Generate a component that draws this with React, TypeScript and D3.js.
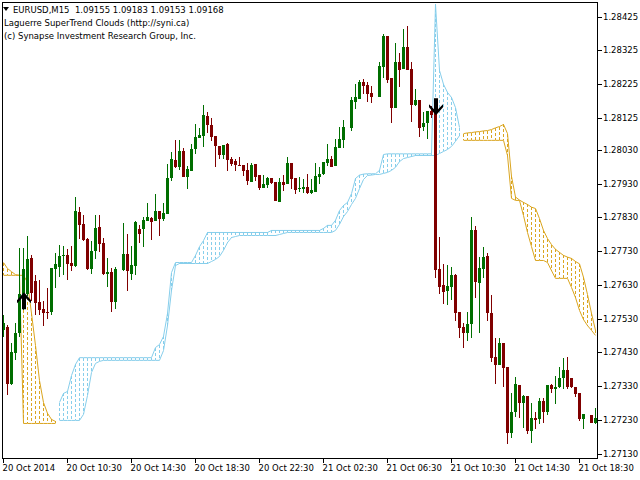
import React from "react";
import * as d3 from "d3";

// ---- data (EURUSD M15) ----
const open = [1.27495,1.27506,1.27337,1.27429,1.27486,1.27560,1.27604,1.27708,1.27640,1.27578,
1.27557,1.27549,1.27548,1.27678,1.27684,1.27715,1.27717,1.27696,1.27687,1.27847,
1.27809,1.27767,1.27678,1.27729,1.27800,1.27755,1.27663,1.27669,1.27578,null,
1.27675,1.27720,1.27663,1.27687,1.27794,1.27794,1.27818,1.27829,1.27818,1.27850,
1.27826,1.27841,1.27945,1.28001,1.27978,1.28025,1.27948,1.27966,1.28031,1.28066,
1.28072,1.28129,1.28102,1.28072,1.28040,1.28016,1.28046,1.28004,1.27998,1.27986,
1.27986,1.27969,1.27936,1.27989,1.27954,1.27918,1.27927,1.27945,1.27936,1.27874,
1.27936,1.27930,1.27992,1.27945,1.27915,1.27915,1.27921,1.27903,1.27906,1.27948,
1.27957,1.27992,1.28004,1.27981,1.28034,1.28058,null,1.28096,1.28173,1.28182,
1.28232,1.28221,1.28197,null,1.28185,1.28274,1.28366,1.28244,1.28155,1.28289,
1.28268,1.28336,1.28268,1.28164,1.28179,1.28099,1.28108,1.28146,1.28161,1.27678,
1.27628,1.27613,1.27622,1.27658,1.27548,1.27506,1.27486,1.27515,1.27791,1.27634,
1.27678,1.27714,1.27545,1.27417,1.27391,1.27456,1.27385,1.27192,1.27252,1.27334,
1.27281,1.27299,1.27198,1.27234,1.27231,1.27287,1.27252,1.27332,1.27320,1.27326,
1.27355,1.27376,1.27355,1.27326,1.27308,1.27231,null,1.27243,1.27219];

const high = [1.27539,1.27512,1.27456,1.27518,1.27738,1.27740,1.27776,1.27717,1.27658,1.27643,
1.27583,1.27619,1.27681,1.27723,1.27749,1.27746,1.27735,1.27746,1.27889,1.27859,
1.27838,1.27770,1.27761,1.27838,1.27838,1.27770,1.27708,1.27681,1.27684,null,
1.27812,1.27779,1.27746,1.27818,1.27806,1.27832,1.27871,1.27832,1.27898,1.27850,
1.27871,1.27989,1.28022,1.28058,1.28058,1.28034,1.27983,1.28046,1.28105,1.28096,
1.28164,1.28141,1.28123,1.28072,1.28040,1.28043,1.28049,1.28010,1.28004,1.28010,
1.27986,1.27992,1.27992,1.27989,1.27954,1.27954,1.27948,1.27945,1.27936,1.27945,
1.27954,1.28010,1.27992,1.27945,1.27948,1.27942,1.27957,1.27942,1.27992,1.27978,
1.27995,1.28046,1.28013,1.28061,1.28099,1.28117,null,1.28185,1.28224,1.28238,
1.28241,1.28232,1.28218,null,1.28289,1.28372,1.28366,1.28244,1.28345,1.28318,
1.28389,1.28398,1.28289,1.28209,1.28179,1.28141,1.28146,1.28161,1.28182,1.27773,
1.27693,1.27690,1.27684,1.27663,1.27548,1.27518,1.27548,1.27832,1.27803,1.27711,
1.27743,1.27723,1.27601,1.27471,1.27471,1.27456,1.27385,1.27308,1.27358,1.27334,
1.27302,1.27299,1.27281,1.27252,1.27293,1.27293,1.27332,1.27337,1.27361,1.27385,
1.27414,1.27417,1.27355,1.27326,1.27308,1.27246,null,1.27243,1.27266];

const low = [1.27474,1.27302,1.27334,1.27406,1.27474,1.27554,1.27598,1.27583,1.27539,1.27539,
1.27509,1.27530,1.27539,1.27619,1.27652,1.27658,1.27643,1.27672,1.27684,1.27767,
1.27761,1.27675,1.27663,1.27705,1.27726,1.27660,1.27622,1.27548,1.27557,null,
1.27672,1.27613,1.27643,1.27658,1.27755,1.27743,1.27818,1.27764,1.27818,1.27776,
1.27818,1.27841,1.27939,1.27975,1.27969,1.27948,1.27915,1.27966,1.28019,1.28066,
1.28037,1.28081,1.28055,1.27978,1.28004,1.28004,1.27966,1.27983,1.27966,1.27983,
1.27951,1.27927,1.27936,1.27939,1.27912,1.27918,1.27918,1.27930,1.27877,1.27874,
1.27909,1.27930,1.27915,1.27900,1.27906,1.27903,1.27898,1.27900,1.27906,1.27930,
1.27954,1.27981,1.27978,1.27981,1.28034,1.28034,null,1.28087,1.28152,1.28182,
1.28194,1.28173,1.28170,null,1.28185,1.28244,1.28229,1.28108,1.28155,1.28215,
1.28268,1.28265,1.28111,1.28161,1.28069,1.28087,1.28061,1.28123,1.27649,1.27604,
1.27572,1.27569,1.27586,1.27524,1.27471,1.27444,1.27462,1.27471,1.27592,1.27486,
1.27649,1.27524,1.27400,1.27337,1.27391,1.27326,1.27157,1.27177,1.27237,1.27234,
1.27207,1.27189,1.27160,1.27204,1.27216,1.27219,1.27243,1.27308,1.27278,1.27323,
1.27320,1.27320,1.27323,1.27296,1.27225,1.27204,null,1.27219,1.27216];

const close = [1.27518,1.27337,1.27432,1.27486,1.27604,1.27678,1.27705,1.27607,1.27575,1.27554,
1.27545,1.27546,1.27681,1.27693,1.27714,1.27717,1.27693,1.27687,1.27850,1.27806,
1.27764,1.27678,1.27729,1.27797,1.27752,1.27663,1.27669,1.27578,1.27678,null,
1.27720,1.27672,1.27690,1.27815,1.27779,1.27821,1.27832,1.27815,1.27850,1.27826,
1.27844,1.27945,1.28004,1.27978,1.28025,1.27948,1.27972,1.28031,1.28069,1.28075,
1.28132,1.28102,1.28069,1.28040,1.28016,1.28043,1.28001,1.27989,1.27986,1.27985,
1.27966,1.27939,1.27986,1.27948,1.27918,1.27930,1.27945,1.27933,1.27877,1.27936,
1.27927,1.27992,1.27942,1.27912,1.27918,1.27921,1.27903,1.27912,1.27951,1.27957,
1.27995,1.28004,1.27978,1.28037,1.28061,1.28099,null,1.28179,1.28185,1.28232,
1.28218,1.28194,1.28185,null,1.28277,1.28366,1.28238,1.28155,1.28289,1.28265,
1.28336,1.28265,1.28164,1.28179,1.28096,1.28108,1.28146,1.28132,1.27675,1.27622,
1.27610,1.27625,1.27658,1.27545,1.27503,1.27486,1.27515,1.27791,1.27637,1.27681,
1.27711,1.27545,1.27414,1.27391,1.27456,1.27382,1.27192,1.27252,1.27337,1.27281,
1.27299,1.27198,1.27234,1.27228,1.27287,1.27252,1.27332,1.27320,1.27326,1.27355,
1.27376,1.27326,1.27326,1.27305,1.27231,1.27246,null,1.27219,1.27234];

// Laguerre SuperTrend cloud: two lines per bar
const cloudFast = [1.27696,1.27678,1.27669,1.27660,1.27658,1.27658,1.27637,1.27545,1.27450,1.27346,
1.27281,1.27249,1.27231,1.27225,1.27281,1.27308,1.27314,1.27361,1.27394,1.27414,
1.27414,1.27414,1.27414,1.27414,1.27414,1.27414,1.27414,1.27414,1.27414,1.27414,
1.27414,1.27414,1.27414,1.27414,1.27414,1.27414,1.27414,1.27414,1.27444,1.27453,
1.27477,1.27545,1.27666,1.27696,1.27696,1.27696,1.27696,1.27696,1.27717,1.27743,
1.27761,1.27785,1.27785,1.27785,1.27785,1.27785,1.27785,1.27785,1.27785,1.27785,
1.27785,1.27785,1.27785,1.27785,1.27785,1.27785,1.27785,1.27791,1.27791,1.27791,
1.27791,1.27791,1.27791,1.27791,1.27791,1.27791,1.27791,1.27791,1.27791,1.27791,
1.27797,1.27806,1.27806,1.27821,1.27850,1.27865,1.27874,1.27900,1.27945,1.27955,
1.27958,1.27959,1.27959,1.27959,1.27969,1.28016,1.28018,1.28018,1.28018,1.28018,
1.28018,1.28018,1.28018,1.28018,1.28018,1.28018,1.28018,1.28018,1.28461,1.28265,
1.28224,1.28200,1.28185,1.28155,1.28096,1.28078,1.28080,1.28081,1.28083,1.28084,
1.28086,1.28087,1.28090,1.28095,1.28099,1.28105,1.28078,1.27951,1.27890,1.27881,
1.27874,1.27868,1.27860,1.27856,1.27826,1.27791,1.27767,1.27749,1.27735,1.27726,
1.27717,1.27712,1.27708,1.27699,1.27692,1.27652,1.27601,1.27545,1.27495];

const cloudSlow = [1.27658,1.27658,1.27658,1.27658,1.27658,1.27219,1.27219,1.27219,1.27219,1.27219,
1.27219,1.27219,1.27219,1.27219,1.27228,1.27228,1.27228,1.27228,1.27228,1.27228,
1.27246,1.27302,1.27370,1.27397,1.27403,1.27406,1.27406,1.27406,1.27406,1.27406,
1.27406,1.27406,1.27406,1.27406,1.27406,1.27406,1.27406,1.27406,1.27406,1.27406,
1.27435,1.27509,1.27613,1.27687,1.27693,1.27693,1.27693,1.27693,1.27693,1.27693,
1.27693,1.27693,1.27699,1.27705,1.27714,1.27732,1.27755,1.27770,1.27773,1.27776,
1.27776,1.27776,1.27776,1.27776,1.27776,1.27776,1.27776,1.27776,1.27776,1.27779,
1.27782,1.27785,1.27785,1.27785,1.27785,1.27785,1.27785,1.27785,1.27785,1.27785,
1.27785,1.27785,1.27785,1.27791,1.27809,1.27832,1.27847,1.27868,1.27886,1.27915,
1.27942,1.27954,1.27955,1.27957,1.27957,1.27960,1.27963,1.27969,1.27978,1.27995,
1.28004,1.28007,1.28010,1.28013,1.28013,1.28013,1.28013,1.28013,1.28013,1.28019,
1.28025,1.28031,1.28040,1.28055,1.28072,1.28058,1.28058,1.28058,1.28058,1.28058,
1.28058,1.28058,1.28058,1.28058,1.28058,1.28058,1.28013,1.27886,1.27880,1.27880,
1.27835,1.27785,1.27743,1.27702,1.27702,1.27702,1.27696,1.27672,1.27649,1.27649,
1.27649,1.27649,1.27622,1.27592,1.27554,1.27527,1.27509,1.27495,1.27480];

// trend segments of the cloud (first bar, last bar, trend)
const cloudSegments = [
  { from: 0, to: 13, trend: "down" },
  { from: 14, to: 114, trend: "up" },
  { from: 115, to: 148, trend: "down" },
];

const signals = [
  { bar: 5, dir: "up", price: 1.27608 },
  { bar: 108, dir: "down", price: 1.28132 },
];

const priceTicks = [1.28425, 1.28325, 1.28225, 1.28125, 1.2803, 1.2793, 1.2783, 1.2773, 1.2763, 1.2753, 1.2743, 1.2733, 1.2723, 1.2713];
const timeTickBars = [0, 16, 32, 48, 64, 80, 96, 112, 128, 144];
const timeTickLabels = ["20 Oct 2014", "20 Oct 10:30", "20 Oct 14:30", "20 Oct 18:30", "20 Oct 22:30", "21 Oct 02:30", "21 Oct 06:30", "21 Oct 10:30", "21 Oct 14:30", "21 Oct 18:30"];

const headerSymbol = "EURUSD,M15  1.09155 1.09183 1.09153 1.09168";
const headerLines = ["Laguerre SuperTrend Clouds (http://syni.ca)", "(c) Synapse Investment Research Group, Inc."];

const BULL = "#006e00";
const BEAR = "#800000";
const UP_CLOUD = "#87CEEB";
const DN_CLOUD = "#DAA520";
const FONT = "'DejaVu Sans', Tahoma, sans-serif";

export default function App() {
  const left = 2.5, right = 597.5, top = 2.5, bottom = 458.5;
  const x = d3.scaleLinear().domain([0, 148]).range([3.5, 595.5]);
  const y = d3.scaleLinear().domain([1.2713, 1.28425]).range([453.5, 16.5]);
  const bars = d3.range(open.length).filter((i) => open[i] != null);

  const lineGen = (arr: number[]) =>
    d3.line<number>().x((i) => x(i)).y((i) => y(arr[i]));

  return (
    <svg width={640} height={480} style={{ position: "absolute", left: 0, top: 0, background: "#fff" }}>
      <defs>
        <clipPath id="plot">
          <rect x={left} y={top} width={right - left} height={bottom - top} />
        </clipPath>
      </defs>
      <rect x={0} y={0} width={640} height={480} fill="#fff" />
      <g clipPath="url(#plot)">
        {cloudSegments.map((s, k) => {
          const idx = d3.range(s.from, s.to + 1);
          const col = s.trend === "up" ? UP_CLOUD : DN_CLOUD;
          return (
            <g key={k}>
              {idx.map((i) => (
                <line key={i} x1={x(i)} x2={x(i)} y1={y(cloudFast[i])} y2={y(cloudSlow[i])}
                  stroke={col} strokeWidth={1} strokeDasharray="3,2" shapeRendering="crispEdges" />
              ))}
              <path d={lineGen(cloudFast)(idx) || ""} fill="none" stroke={col} strokeWidth={1} />
              <path d={lineGen(cloudSlow)(idx) || ""} fill="none" stroke={col} strokeWidth={1} />
            </g>
          );
        })}
        {bars.map((i) => {
          const o = open[i] as number, c = close[i] as number;
          const bull = c >= o;
          const col = bull ? BULL : BEAR;
          const yt = y(Math.max(o, c));
          const h = Math.max(1, Math.abs(y(o) - y(c)));
          return (
            <g key={i} shapeRendering="crispEdges">
              <line x1={x(i)} x2={x(i)} y1={y(high[i] as number)} y2={y(low[i] as number)} stroke={col} strokeWidth={1} />
              <rect x={x(i) - 1.5} y={yt} width={3} height={h} fill={col} />
            </g>
          );
        })}
        {signals.map((s, k) => {
          const cx = x(s.bar) + 0.5;
          const cy = y(s.price);
          const d = "M0,0 L7,8 L7,11 L2,6 L2,17 L-2,17 L-2,6 L-7,11 L-7,8 Z";
          const tr = s.dir === "up" ? `translate(${cx},${cy})` : `translate(${cx},${cy}) scale(1,-1)`;
          return <path key={k} d={d} transform={tr} fill="#000" />;
        })}
      </g>
      <rect x={left} y={top} width={right - left} height={bottom - top} fill="none" stroke="#000" strokeWidth={1} shapeRendering="crispEdges" />
      {priceTicks.map((p) => (
        <g key={p}>
          <line x1={right} x2={right + 4} y1={Math.round(y(p)) + 0.5} y2={Math.round(y(p)) + 0.5} stroke="#000" shapeRendering="crispEdges" />
          <text x={603} y={y(p) + 3} fontFamily={FONT} fontSize={8.5} fill="#000">{p.toFixed(5)}</text>
        </g>
      ))}
      {timeTickBars.map((b, k) => (
        <g key={b}>
          <line x1={x(b)} x2={x(b)} y1={bottom} y2={bottom + 4} stroke="#000" shapeRendering="crispEdges" />
          <text x={x(b) - 1} y={471} fontFamily={FONT} fontSize={8.5} fill="#000">{timeTickLabels[k]}</text>
        </g>
      ))}
      <path d="M3,7 L9,7 L6,11 Z" fill="#000" />
      <text x={13} y={13} fontFamily={FONT} fontSize={8.5} fill="#000" style={{ whiteSpace: "pre" }}>{headerSymbol}</text>
      {headerLines.map((t, k) => (
        <text key={k} x={4} y={26 + 13 * k} fontFamily={FONT} fontSize={8.5} fill="#000">{t}</text>
      ))}
    </svg>
  );
}
